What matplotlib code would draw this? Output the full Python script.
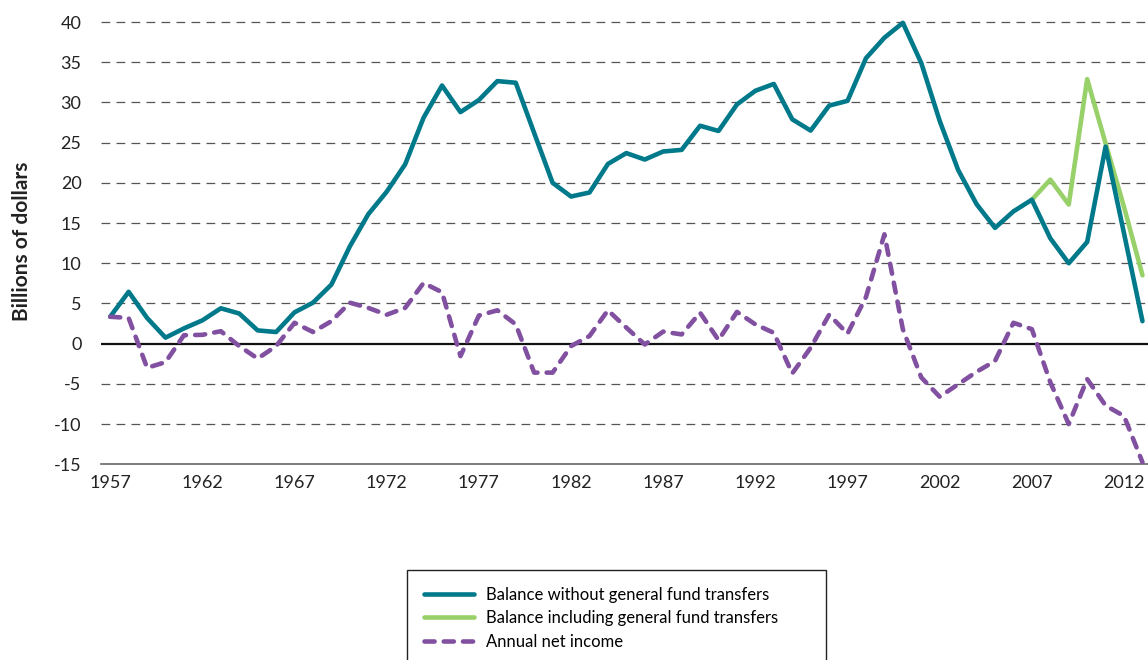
import matplotlib
matplotlib.use("Agg")
import matplotlib.pyplot as plt

plt.rcParams["font.family"] = ["Lato", "DejaVu Sans"]
plt.rcParams["axes.unicode_minus"] = False

years = list(range(1957, 2014))

balance_without = [
    3.35, 6.45, 3.2, 0.75, 1.9, 2.9, 4.4, 3.75, 1.65, 1.45,
    3.9, 5.1, 7.35, 12.1, 16.1, 18.9, 22.3, 28.1, 32.1, 28.8,
    30.3, 32.65, 32.45, 26.2, 20.0, 18.3, 18.8, 22.35, 23.7, 22.9,
    23.9, 24.1, 27.1, 26.45, 29.75, 31.45, 32.3, 27.9, 26.5, 29.6,
    30.2, 35.5, 38.05, 39.9, 34.9, 27.7, 21.6, 17.35, 14.4, 16.45,
    17.9, 13.1, 10.0, 12.65, 24.5, 13.7, 2.8,
]

transfer_years = [2007, 2008, 2009, 2010, 2011, 2012, 2013]
balance_including = [17.9, 20.4, 17.3, 32.9, 24.9, 17.0, 8.5]

net_income = [
    3.35, 3.2, -3.0, -2.3, 1.05, 1.1, 1.55, -0.3, -1.85, -0.3,
    2.6, 1.45, 2.8, 5.1, 4.45, 3.6, 4.45, 7.55, 6.4, -1.55,
    3.5, 4.15, 2.4, -3.6, -3.6, -0.3, 0.95, 4.15, 2.0, -0.1,
    1.5, 1.15, 3.85, 0.45, 3.95, 2.4, 1.35, -3.7, -0.5, 3.6,
    1.25, 5.8, 13.6, 1.8, -4.2, -6.6, -5.05, -3.5, -2.15, 2.6,
    1.8, -4.8, -10.0, -4.4, -7.7, -9.0, -14.75,
]

x_ticks = list(range(1957, 2013, 5))
y_ticks = list(range(-15, 41, 5))

teal = "#00798a"
green = "#98d06a"
purple = "#8150a0"

fig = plt.figure(figsize=(11.48, 6.6), dpi=100)
ax = fig.add_axes([101 / 1148, 1 - 464.3 / 660, 1047 / 1148, 446.3 / 660])

for y in y_ticks:
    if y in (-15, 0):
        continue
    ax.axhline(y, color="#555555", lw=0.9, dashes=(7, 5), zorder=1)
ax.axhline(0, color="#111111", lw=1.6, zorder=2)

ax.plot(transfer_years, balance_including, color=green, lw=3.3,
        solid_capstyle="round", solid_joinstyle="round", zorder=3,
        label="Balance including general fund transfers")
ax.plot(years, balance_without, color=teal, lw=3.3,
        solid_capstyle="round", solid_joinstyle="round", zorder=4,
        label="Balance without general fund transfers")
ax.plot(years, net_income, color=purple, lw=3.3, dashes=(2.2, 2.0),
        dash_capstyle="round", dash_joinstyle="round", zorder=4,
        label="Annual net income")

ax.set_xlim(1956.5, 2013.3)
ax.set_ylim(-15, 40.5)
ax.set_xticks(x_ticks)
ax.set_yticks(y_ticks)
ax.tick_params(axis="both", length=0, labelsize=13, colors="#222222")
ax.tick_params(axis="y", pad=14)
ax.tick_params(axis="x", pad=8)

for side in ("top", "right", "left"):
    ax.spines[side].set_visible(False)
ax.spines["bottom"].set_color("#666666")
ax.spines["bottom"].set_linewidth(1.2)

ax.set_ylabel("Billions of dollars", fontsize=15, fontweight="bold",
              color="#222222", labelpad=16)

handles, labels = ax.get_legend_handles_labels()
order = [1, 0, 2]
leg = fig.legend(
    [handles[i] for i in order], [labels[i] for i in order],
    loc="upper left",
    bbox_to_anchor=(407 / 1148, 1 - 570 / 660, 419 / 1148, 0.0),
    mode="expand", borderaxespad=0.0,
    fontsize=12, handlelength=3.0, handletextpad=0.75,
    borderpad=1.0, labelspacing=0.45, fancybox=False,
    edgecolor="#222222", framealpha=1,
)
leg.get_frame().set_linewidth(1.0)

fig.savefig("out.png", dpi=100)
